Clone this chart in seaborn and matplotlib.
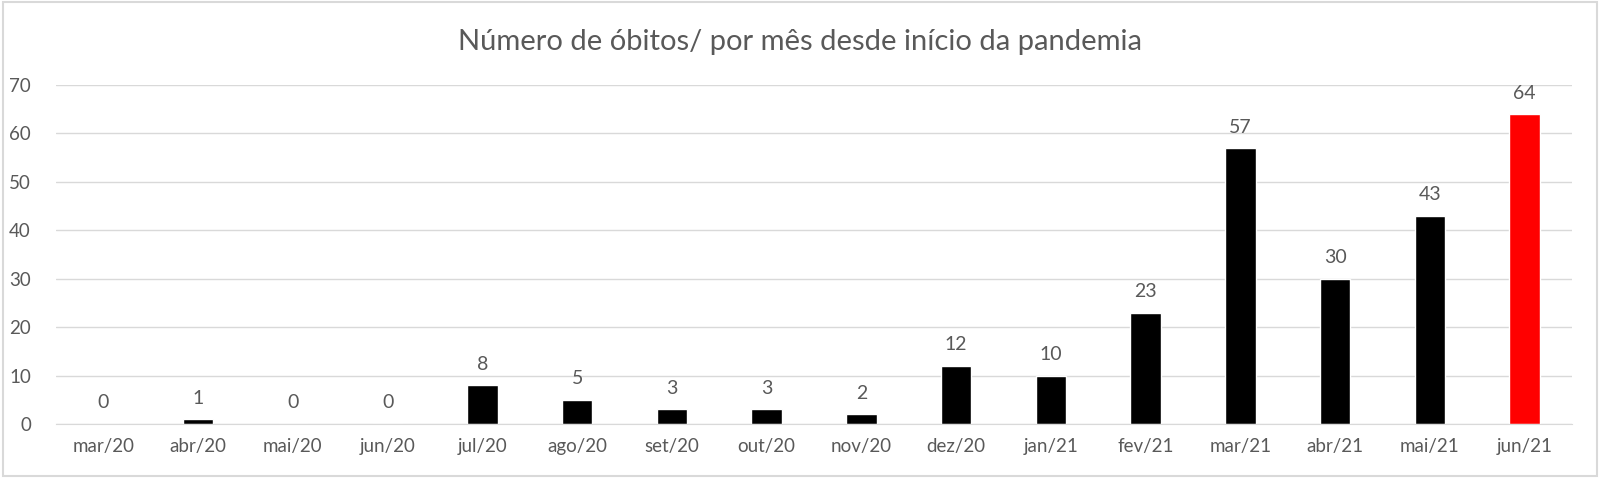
import numpy as np
import pandas as pd
import seaborn as sns
import matplotlib.pyplot as plt
from matplotlib.patches import Rectangle

meses = ["mar/20", "abr/20", "mai/20", "jun/20", "jul/20", "ago/20", "set/20", "out/20",
         "nov/20", "dez/20", "jan/21", "fev/21", "mar/21", "abr/21", "mai/21", "jun/21"]
obitos = [0, 1, 0, 0, 8, 5, 3, 3, 2, 12, 10, 23, 57, 30, 43, 64]
cores = ["#000000"] * 15 + ["#ff0000"]

GRAY = "#595959"

if __name__ == "__main__":
    sns.set_style("white")
    plt.rcParams['font.family'] = ['Lato', 'DejaVu Sans']
    df = pd.DataFrame({"mes": meses, "obitos": obitos})

    fig = plt.figure(figsize=(16, 4.78), dpi=100)
    ax = fig.add_axes([0.035, 0.113, 0.9475, 0.709])
    sns.barplot(data=df, x="mes", y="obitos", hue="mes", palette=cores,
                legend=False, width=0.32, saturation=1, ax=ax)

    ax.set_ylim(0, 70)
    ax.set_xlim(-0.5, len(meses) - 0.5)
    ax.set_yticks(range(0, 71, 10))
    ax.yaxis.grid(True, color="#d9d9d9", linewidth=1)
    ax.set_axisbelow(True)
    for s in ["left", "right", "top"]:
        ax.spines[s].set_visible(False)
    ax.spines["bottom"].set_color("#d9d9d9")
    ax.set_xlabel("")
    ax.set_ylabel("")
    ax.tick_params(axis="both", length=0, labelsize=13.5, labelcolor=GRAY, pad=10)
    ax.tick_params(axis="y", pad=18)
    ax.set_xticks(np.arange(-0.5, len(meses)), minor=True)
    ax.tick_params(axis="x", which="minor", length=6, color="#d9d9d9", direction="out")

    for c in ax.containers:
        ax.bar_label(c, padding=9, fontsize=14, color=GRAY)

    fig.suptitle("Número de óbitos/ por mês desde início da pandemia",
                 y=0.94, fontsize=21, color=GRAY)
    fig.patches.append(Rectangle((0.002, 0.004), 0.996, 0.992, transform=fig.transFigure,
                                 fill=False, edgecolor="#d9d9d9", linewidth=1.5))
    fig.savefig("out.png", dpi=100)
